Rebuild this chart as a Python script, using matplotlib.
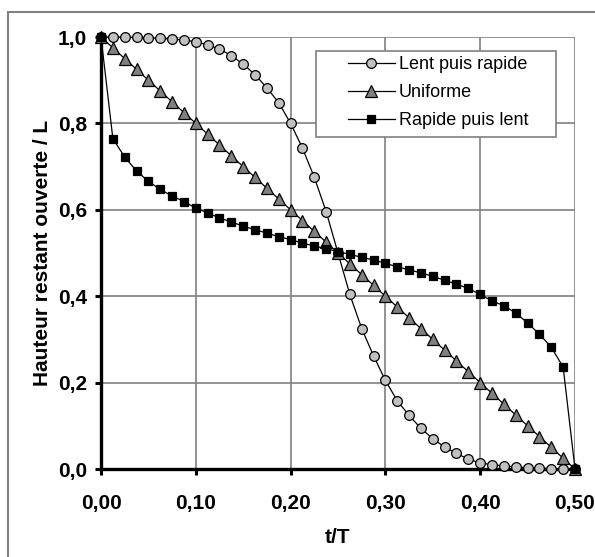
import matplotlib
matplotlib.use('Agg')
import matplotlib.pyplot as plt
from matplotlib.patches import Rectangle
import numpy as np

# t/T sampled every 0.0125
t = [0.0, 0.0125, 0.025, 0.0375, 0.05, 0.0625, 0.075, 0.0875, 0.1, 0.1125,
     0.125, 0.1375, 0.15, 0.1625, 0.175, 0.1875, 0.2, 0.2125, 0.225, 0.2375,
     0.25, 0.2625, 0.275, 0.2875, 0.3, 0.3125, 0.325, 0.3375, 0.35, 0.3625,
     0.375, 0.3875, 0.4, 0.4125, 0.425, 0.4375, 0.45, 0.4625, 0.475, 0.4875, 0.5]

lent_rapide = [1.0, 1.0, 1.0, 0.999, 0.998, 0.997, 0.995, 0.993, 0.989, 0.982,
               0.972, 0.957, 0.937, 0.913, 0.882, 0.848, 0.800, 0.743, 0.675, 0.596,
               0.500, 0.404, 0.325, 0.262, 0.205, 0.158, 0.124, 0.094, 0.070, 0.051,
               0.036, 0.023, 0.014, 0.010, 0.007, 0.005, 0.003, 0.002, 0.001, 0.000, 0.0]

uniforme = [1.0, 0.975, 0.95, 0.925, 0.9, 0.875, 0.85, 0.825, 0.8, 0.775,
            0.75, 0.725, 0.7, 0.675, 0.65, 0.625, 0.6, 0.575, 0.55, 0.525,
            0.5, 0.475, 0.45, 0.425, 0.4, 0.375, 0.35, 0.325, 0.3, 0.275,
            0.25, 0.225, 0.2, 0.175, 0.15, 0.125, 0.1, 0.075, 0.05, 0.025, 0.0]

rapide_lent = [1.0, 0.765, 0.722, 0.690, 0.666, 0.647, 0.632, 0.619, 0.604, 0.593,
               0.581, 0.572, 0.562, 0.554, 0.546, 0.538, 0.531, 0.523, 0.516, 0.510,
               0.503, 0.497, 0.490, 0.484, 0.476, 0.468, 0.461, 0.454, 0.446, 0.437,
               0.428, 0.418, 0.404, 0.389, 0.378, 0.361, 0.338, 0.312, 0.282, 0.236, 0.0]

labels = ['Lent puis rapide', 'Uniforme', 'Rapide puis lent']
xticks = [0.0, 0.1, 0.2, 0.3, 0.4, 0.5]
yticks = [0.0, 0.2, 0.4, 0.6, 0.8, 1.0]

plt.rcParams['font.family'] = ['Liberation Sans', 'DejaVu Sans']

fig = plt.figure(figsize=(5.95, 5.57), dpi=100)
ax = fig.add_axes([101/595, 1 - 469/557, 474/595, 432/557])

# chart area border (cut by the image on the right and bottom)
fig.patches.append(Rectangle((8/595, -0.1), 2, 1 - 12/557 + 0.1, transform=fig.transFigure,
                             fill=False, edgecolor='#808080', lw=1.5))

ax.plot(t, lent_rapide, '-o', color='black', lw=0.9, ms=7, mfc='#c0c0c0', mec='black',
        mew=0.9, clip_on=False, zorder=5, label=labels[0])
ax.plot(t, uniforme, '-^', color='black', lw=0.9, ms=8, mfc='#808080', mec='black',
        mew=0.9, clip_on=False, zorder=5, label=labels[1])
ax.plot(t, rapide_lent, '-s', color='black', lw=0.9, ms=6.3, mfc='black', mec='black',
        mew=0.9, clip_on=False, zorder=6, label=labels[2])

ax.set_xlim(0, 0.5)
ax.set_ylim(0, 1)
ax.set_xticks(xticks)
ax.set_yticks(yticks)
ax.set_xticklabels([('%.2f' % v).replace('.', ',') for v in xticks])
ax.set_yticklabels([('%.1f' % v).replace('.', ',') for v in yticks])

ax.grid(True, color='#808080', lw=1.2)
ax.set_axisbelow(True)
for s in ['top', 'right']:
    ax.spines[s].set_visible(False)
for s in ['left', 'bottom']:
    ax.spines[s].set_linewidth(2.4)
    ax.spines[s].set_zorder(4)

ax.tick_params(axis='both', direction='out', length=4, width=2.2, labelsize=15)
ax.tick_params(axis='x', pad=14)
ax.tick_params(axis='y', pad=6)
for lab in ax.get_xticklabels() + ax.get_yticklabels():
    lab.set_fontweight('bold')

ax.set_xlabel('t/T', fontsize=15, fontweight='bold', labelpad=11)
ax.set_ylabel('Hauteur restant ouverte / L', fontsize=15, fontweight='bold', labelpad=4)

# legend box drawn by hand: wide horizontal padding like the original
ax.add_patch(Rectangle(((316-101)/474*0.5, (469-137)/432), (556-316)/474*0.5, (137-51)/432,
                       transform=ax.transData, facecolor='white', edgecolor='#808080',
                       lw=1.2, zorder=7, clip_on=False))
leg = ax.legend(loc='upper left', bbox_to_anchor=((348-101)/474, (469-56)/432),
                borderaxespad=0, frameon=False, fontsize=13, handlelength=2.6,
                handletextpad=0.2, labelspacing=0.62, borderpad=0)
leg.set_zorder(8)

fig.savefig('out.png', dpi=100)
